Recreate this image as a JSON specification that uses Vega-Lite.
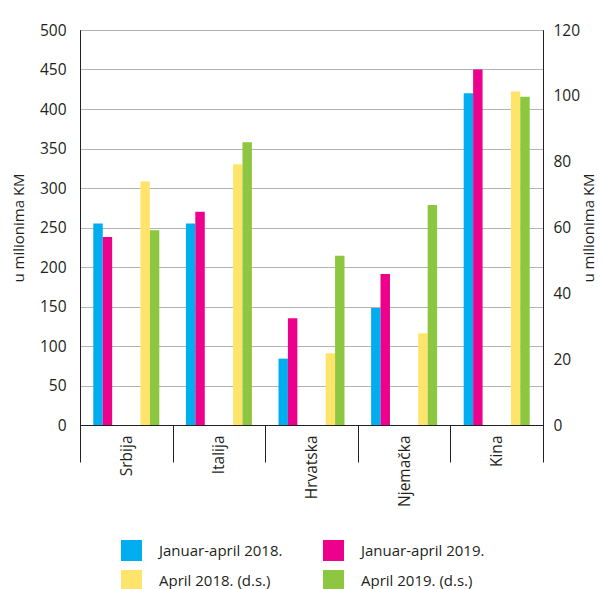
{
  "$schema": "https://vega.github.io/schema/vega-lite/v6.json",
  "autosize": "none",
  "width": 463,
  "height": 395,
  "padding": {"left": 80, "top": 30, "right": 59, "bottom": 164},
  "background": "white",
  "config": {
    "font": "Open Sans",
    "view": {"stroke": "black", "strokeWidth": 1},
    "axis": {"labelFont": "Open Sans", "titleFont": "Open Sans", "labelColor": "#231f20", "titleColor": "#231f20", "labelFontSize": 15.5, "titleFontSize": 15, "titleFontWeight": "normal"},
    "legend": {"labelFont": "Open Sans", "labelFontSize": 15, "labelColor": "#231f20"}
  },
  "datasets": {
    "left": [
      {"country": "Srbija", "series": "Januar-april 2018.", "value": 255},
      {"country": "Srbija", "series": "Januar-april 2019.", "value": 238},
      {"country": "Italija", "series": "Januar-april 2018.", "value": 255},
      {"country": "Italija", "series": "Januar-april 2019.", "value": 270},
      {"country": "Hrvatska", "series": "Januar-april 2018.", "value": 84},
      {"country": "Hrvatska", "series": "Januar-april 2019.", "value": 135},
      {"country": "Njemačka", "series": "Januar-april 2018.", "value": 148},
      {"country": "Njemačka", "series": "Januar-april 2019.", "value": 191},
      {"country": "Kina", "series": "Januar-april 2018.", "value": 420},
      {"country": "Kina", "series": "Januar-april 2019.", "value": 450}
    ],
    "right": [
      {"country": "Srbija", "series": "April 2018. (d.s.)", "value": 74.0},
      {"country": "Srbija", "series": "April 2019. (d.s.)", "value": 59.2},
      {"country": "Italija", "series": "April 2018. (d.s.)", "value": 79.2},
      {"country": "Italija", "series": "April 2019. (d.s.)", "value": 85.9},
      {"country": "Hrvatska", "series": "April 2018. (d.s.)", "value": 21.8},
      {"country": "Hrvatska", "series": "April 2019. (d.s.)", "value": 51.4},
      {"country": "Njemačka", "series": "April 2018. (d.s.)", "value": 27.9},
      {"country": "Njemačka", "series": "April 2019. (d.s.)", "value": 66.8},
      {"country": "Kina", "series": "April 2018. (d.s.)", "value": 101.3},
      {"country": "Kina", "series": "April 2019. (d.s.)", "value": 99.7}
    ]
  },
  "encoding": {
    "x": {
      "field": "country", "type": "nominal", "sort": ["Srbija", "Italija", "Hrvatska", "Njemačka", "Kina"],
      "scale": {"paddingInner": 0, "paddingOuter": 0},
      "axis": {"title": null, "labelAngle": 270, "labelAlign": "right", "labelBaseline": "middle", "tickBand": "extent", "tickSize": 37, "tickColor": "#231f20", "domainColor": "#231f20", "labelPadding": -27}
    },
    "xOffset": {
      "field": "series", "type": "nominal",
      "scale": {"domain": ["_p1", "Januar-april 2018.", "Januar-april 2019.", "_g1", "_g2", "_g3", "April 2018. (d.s.)", "April 2019. (d.s.)", "_p2"], "paddingInner": 0, "paddingOuter": 0.41}
    },
    "color": {
      "field": "series", "type": "nominal",
      "scale": {"domain": ["Januar-april 2018.", "April 2018. (d.s.)", "Januar-april 2019.", "April 2019. (d.s.)"], "range": ["#00aeef", "#ffe46b", "#ec008c", "#8dc63f"]},
      "legend": {"title": null, "orient": "none", "legendX": 41, "legendY": 510, "columns": 2, "symbolType": "square", "symbolSize": 441, "symbolStrokeWidth": 0, "labelOffset": 17, "rowPadding": 9, "columnPadding": 40, "padding": 0}
    }
  },
  "layer": [
    {
      "data": {"name": "left"},
      "mark": {"type": "bar"},
      "encoding": {
        "y": {"field": "value", "type": "quantitative", "scale": {"domain": [0, 500], "nice": false},
          "axis": {"title": "u milionima KM", "values": [0, 50, 100, 150, 200, 250, 300, 350, 400, 450, 500], "ticks": false, "labelPadding": 14, "domainColor": "#231f20", "gridColor": "#b3b3b3", "grid": true, "titlePadding": 13}}
      }
    },
    {
      "data": {"name": "right"},
      "mark": {"type": "bar"},
      "encoding": {
        "y": {"field": "value", "type": "quantitative", "scale": {"domain": [0, 120], "nice": false},
          "axis": {"orient": "right", "title": "u milionima KM", "titleAngle": 270, "values": [0, 20, 40, 60, 80, 100, 120], "ticks": false, "labelPadding": 10, "domainColor": "#231f20", "grid": false, "titlePadding": 17}}
      }
    }
  ],
  "resolve": {"scale": {"y": "independent"}, "axis": {"y": "independent"}}
}
